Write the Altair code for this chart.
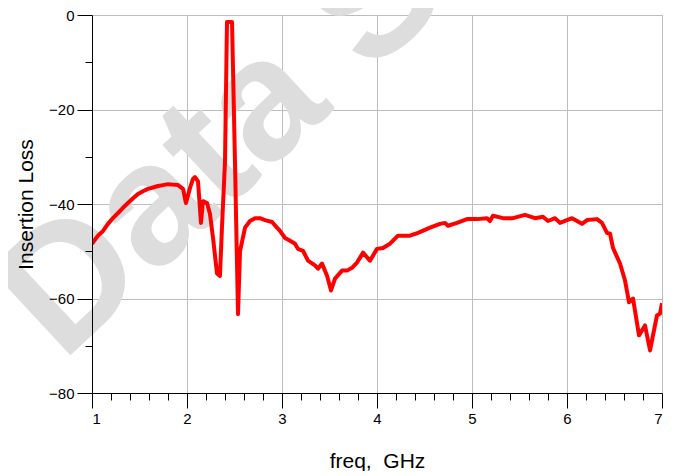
import altair as alt
import pandas as pd

# Insertion loss curve (GHz, dB)
freq = [1.000, 1.063, 1.116, 1.168, 1.220, 1.274, 1.326, 1.379, 1.432, 1.484, 1.537, 1.589, 1.642,
        1.695, 1.747, 1.800, 1.853, 1.905, 1.958, 1.989, 2.032, 2.063, 2.084, 2.116, 2.147,
        2.168, 2.211, 2.242, 2.274, 2.316, 2.347, 2.368, 2.400, 2.421, 2.474, 2.505, 2.537,
        2.558, 2.611, 2.663, 2.716, 2.768, 2.821, 2.895, 2.947, 2.979, 3.032, 3.085, 3.137,
        3.168, 3.221, 3.274, 3.347, 3.379, 3.421, 3.474, 3.516, 3.558, 3.632, 3.684, 3.737,
        3.789, 3.853, 3.926, 4.000, 4.063, 4.137, 4.221, 4.347, 4.432, 4.558, 4.663, 4.716,
        4.747, 4.842, 4.947, 5.053, 5.158, 5.189, 5.221, 5.326, 5.432, 5.558, 5.663, 5.747,
        5.800, 5.874, 5.926, 6.053, 6.158, 6.211, 6.316, 6.368, 6.421, 6.453, 6.484, 6.558,
        6.611, 6.653, 6.695, 6.758, 6.821, 6.874, 6.947, 6.979, 7.000]
loss = [-48.4, -46.7, -45.7, -44.2, -43.0, -41.9, -40.8, -39.8, -38.8, -37.9, -37.3, -36.8, -36.5,
        -36.2, -36.0, -35.8, -35.9, -36.0, -36.8, -39.8, -36.6, -34.7, -34.3, -35.2, -44.0,
        -39.4, -39.8, -42.1, -47.2, -54.7, -55.2, -45.0, -31.0, -1.5, -1.5, -31.0, -63.3,
        -50.0, -45.0, -43.6, -43.0, -43.0, -43.4, -43.8, -45.0, -45.7, -47.2, -47.8, -48.4,
        -49.5, -49.9, -52.0, -53.0, -53.7, -52.6, -55.2, -58.3, -55.8, -54.1, -54.1, -53.5,
        -52.4, -50.3, -52.0, -49.5, -49.3, -48.4, -46.7, -46.7, -46.1, -45.0, -44.2, -44.0,
        -44.6, -44.0, -43.2, -43.2, -43.0, -43.6, -42.5, -43.0, -43.0, -42.3, -43.0, -42.7,
        -43.6, -43.0, -44.0, -43.0, -44.2, -43.4, -43.2, -44.0, -46.1, -46.3, -49.3, -52.6,
        -56.2, -60.8, -60.0, -67.8, -65.7, -71.0, -63.6, -63.2, -61.0]

x_major = [1, 2, 3, 4, 5, 6, 7]
x_minor = [1.2, 1.4, 1.6, 1.8, 2.2, 2.4, 2.6, 2.8, 3.2, 3.4, 3.6, 3.8, 4.2, 4.4, 4.6, 4.8,
           5.2, 5.4, 5.6, 5.8, 6.2, 6.4, 6.6, 6.8]
y_major = [0, -20, -40, -60, -80]
y_minor = [-10, -30, -50, -70]
watermark = ["Data Sheet"]

df = pd.DataFrame({"freq": freq, "loss": loss})
FONT = "Liberation Sans"

xs = alt.Scale(domain=[1, 7], nice=False, zero=False)
ys = alt.Scale(domain=[-80, 0], nice=False, zero=False)

# grid only (drawn behind everything)
grid = alt.Chart(df).mark_line(opacity=0).encode(
    x=alt.X("freq:Q", scale=xs, axis=alt.Axis(
        values=x_major, grid=True, gridColor="#bdbdbd", gridWidth=1, labels=False,
        ticks=False, domain=False, title=None, orient="bottom", zindex=0)),
    y=alt.Y("loss:Q", scale=ys, axis=alt.Axis(
        values=y_major, grid=True, gridColor="#bdbdbd", gridWidth=1, labels=False,
        ticks=False, domain=False, title=None, orient="left", zindex=0)),
)

wm = alt.Chart(pd.DataFrame({"t": watermark})).mark_text(
    font=FONT, fontSize=172, fontWeight="bold", angle=317, align="left",
    baseline="alphabetic", color="#dddddd",
).encode(text="t:N", x=alt.value(-30), y=alt.value(348))

line = alt.Chart(df).mark_line(color="#ff0000", strokeWidth=4, strokeJoin="round", clip=True).encode(
    x=alt.X("freq:Q", scale=xs, axis=alt.Axis(
        values=x_major, format="d", grid=False,
        tickSize=15, tickColor="#000", domainColor="#000", labelFont=FONT, labelFontSize=15,
        labelColor="#000", labelPadding=3, title="freq,\u00a0 GHz", titleFont=FONT,
        titleFontSize=21, titleFontWeight="normal", titleColor="#000", titleY=68,
        titleBaseline="middle", orient="bottom", zindex=1)),
    y=alt.Y("loss:Q", scale=ys, axis=alt.Axis(
        values=y_major, format="d", grid=False,
        tickSize=15, tickColor="#000", domainColor="#000", labelFont=FONT, labelFontSize=15,
        labelColor="#000", labelPadding=3, title="Insertion Loss", titleFont=FONT,
        titleFontSize=21, titleFontWeight="normal", titleColor="#000", titleX=-66,
        titleBaseline="middle", orient="left", zindex=1)),
)

minor = alt.Chart(df).mark_line(opacity=0).encode(
    x=alt.X("freq:Q", scale=xs, axis=alt.Axis(
        values=x_minor, grid=False, labels=False, tickSize=7, tickColor="#000",
        domain=False, title=None, orient="bottom", zindex=1)),
    y=alt.Y("loss:Q", scale=ys, axis=alt.Axis(
        values=y_minor, grid=False, labels=False, tickSize=7, tickColor="#000",
        domain=False, title=None, orient="left", zindex=1)),
)

chart = alt.layer(grid, wm, line, minor).resolve_axis(x="independent", y="independent").properties(
    width=570, height=378,
    autosize=alt.AutoSizeParams(type="none"),
    padding={"left": 84, "top": 7, "right": 8, "bottom": 78},
).configure_view(stroke="#000", strokeWidth=1).configure(background="white")

chart.save("out.html", embed_options={"renderer": "svg", "actions": False})
